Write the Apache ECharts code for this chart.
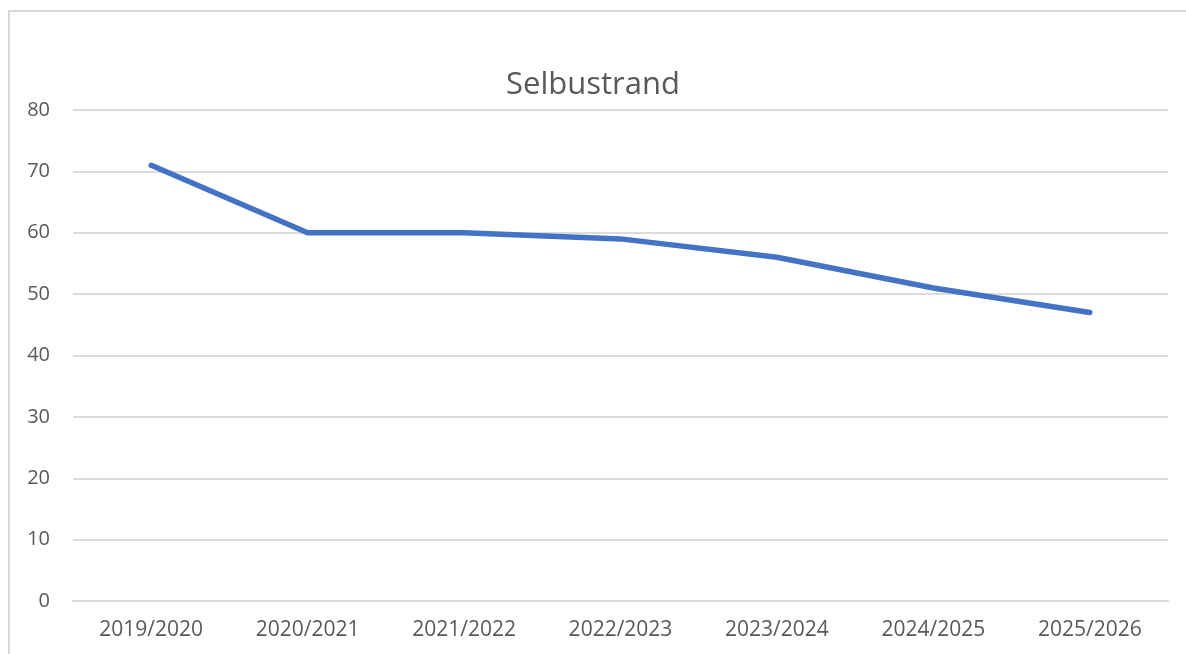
<!DOCTYPE html>
<html>
<head>
<meta charset="utf-8">
<script src="https://cdn.jsdelivr.net/npm/echarts@6/dist/echarts.min.js"></script>
<style>
html,body{margin:0;padding:0;background:#fff;}
#frame{position:absolute;left:8px;top:10px;width:1178px;height:644px;border-left:2px solid #d9d9d9;border-top:2px solid #d9d9d9;box-sizing:border-box;}
#chart{position:absolute;left:0;top:0;width:1186px;height:654px;}
</style>
</head>
<body>
<div id="frame"></div>
<div id="chart"></div>
<script>
const titleText = "Selbustrand";
const categories = ["2019/2020","2020/2021","2021/2022","2022/2023","2023/2024","2024/2025","2025/2026"];
const values = [71, 60, 60, 59, 56, 51, 47];

const chart = echarts.init(document.getElementById('chart'));
chart.setOption({
  backgroundColor: 'transparent',
  animation: false,
  title: {
    text: titleText,
    left: 'center',
    top: 65,
    textStyle: {fontFamily: 'Open Sans', fontSize: 31, fontWeight: 'normal', color: '#595959'}
  },
  grid: {left: 73, right: 18, top: 110, bottom: 53, containLabel: false},
  xAxis: {
    type: 'category',
    data: categories,
    boundaryGap: true,
    axisLine: {show: true, lineStyle: {color: '#d9d9d9', width: 2}},
    axisTick: {show: false},
    axisLabel: {fontFamily: 'Open Sans', fontSize: 21, color: '#595959', margin: 19}
  },
  yAxis: {
    type: 'value',
    min: 0, max: 80, interval: 10,
    axisLine: {show: false},
    axisTick: {show: false},
    splitLine: {lineStyle: {color: '#dcdcdc', width: 2}},
    axisLabel: {fontFamily: 'Open Sans', fontSize: 20, color: '#595959', margin: 23}
  },
  series: [{
    type: 'line',
    data: values,
    symbol: 'none',
    lineStyle: {color: '#4472C4', width: 5.5, cap: 'round', join: 'round'},
    itemStyle: {color: '#4472C4'}
  }]
});
</script>
</body>
</html>
